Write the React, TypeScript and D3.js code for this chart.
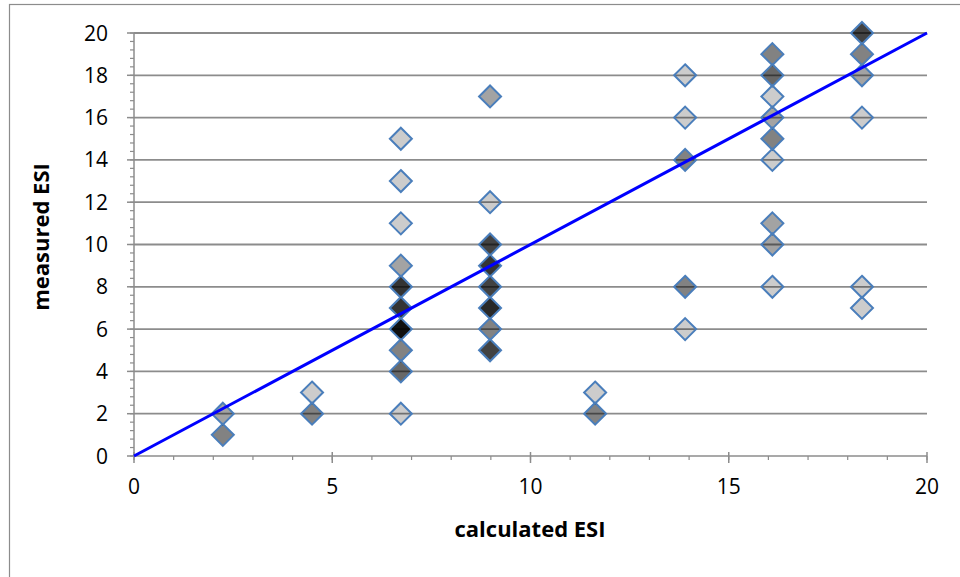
import React from "react";
import * as d3 from "d3";

// calculated ESI (x), measured ESI (y), number of coincident observations
const xValues = [2.24, 2.24, 4.49, 4.49,
  6.73, 6.73, 6.73, 6.73, 6.73, 6.73, 6.73, 6.73, 6.73, 6.73,
  8.98, 8.98, 8.98, 8.98, 8.98, 8.98, 8.98, 8.98,
  11.63, 11.63,
  13.9, 13.9, 13.9, 13.9, 13.9,
  16.1, 16.1, 16.1, 16.1, 16.1, 16.1, 16.1, 16.1, 16.1,
  18.36, 18.36, 18.36, 18.36, 18.36, 18.36];
const yValues = [2, 1, 3, 2,
  15, 13, 11, 9, 8, 7, 6, 5, 4, 2,
  17, 12, 10, 9, 8, 7, 6, 5,
  3, 2,
  18, 16, 14, 8, 6,
  19, 18, 17, 16, 15, 14, 11, 10, 8,
  20, 19, 18, 16, 8, 7];
const counts = [2, 3, 1, 3,
  1, 1, 1, 2, 7, 7, 12, 3, 4, 1,
  2, 1, 6, 7, 6, 8, 3, 6,
  1, 3,
  1, 1, 3, 3, 1,
  3, 4, 1, 2, 3, 1, 2, 2, 1,
  6, 3, 2, 1, 1, 1];

const xTicks = [0, 5, 10, 15, 20];
const yTicks = [0, 2, 4, 6, 8, 10, 12, 14, 16, 18, 20];
const xTitle = "calculated ESI";
const yTitle = "measured ESI";

export default function App() {
  const W = 960, H = 577;
  const x = d3.scaleLinear().domain([0, 20]).range([134, 927]);
  const y = d3.scaleLinear().domain([0, 20]).range([456, 33]);
  const font = "'Open Sans', 'Noto Sans', sans-serif";
  const axisCol = "#8c8c8c";
  const r = 11;
  const diamond = (cx: number, cy: number) =>
    `M${cx},${cy - r}L${cx + r},${cy}L${cx},${cy + r}L${cx - r},${cy}Z`;

  const xMinor = d3.range(0, 21, 1);
  const yMinor = d3.range(0, 20.001, 0.4);

  const pts = xValues.map((xv, i) => ({ x: xv, y: yValues[i], n: counts[i] }));

  return (
    <svg width={W} height={H} style={{ position: "absolute", left: 0, top: 0 }}>
      <rect x={0} y={0} width={W} height={H} fill="#fff" />
      <rect x={9.5} y={4.5} width={W} height={H} fill="none" stroke="#8c8c8c" strokeWidth={1.2} />
      {/* gridlines */}
      {yTicks.filter(t => t > 0).map(t => (
        <line key={"g" + t} x1={x(0)} x2={x(20)} y1={y(t)} y2={y(t)} stroke={axisCol} strokeWidth={1.8} />
      ))}
      {/* y axis */}
      <line x1={x(0)} x2={x(0)} y1={y(0)} y2={y(20)} stroke={axisCol} strokeWidth={1.5} />
      {yMinor.map((t, i) => (
        <line key={"ym" + i} x1={x(0) - 4} x2={x(0)} y1={y(t)} y2={y(t)} stroke={axisCol} strokeWidth={1.2} />
      ))}
      {yTicks.map(t => (
        <g key={"yt" + t}>
          <line x1={x(0) - 7} x2={x(0)} y1={y(t)} y2={y(t)} stroke={axisCol} strokeWidth={1.5} />
          <text x={108} y={y(t)} dy="0.36em" textAnchor="end" fontFamily={font} fontSize={21} fill="#000">{t}</text>
        </g>
      ))}
      {/* x axis */}
      <line x1={x(0)} x2={x(20)} y1={y(0)} y2={y(0)} stroke={axisCol} strokeWidth={1.5} />
      {xMinor.map(t => (
        <line key={"xm" + t} x1={x(t)} x2={x(t)} y1={y(0)} y2={y(0) + 4} stroke={axisCol} strokeWidth={1.2} />
      ))}
      {xTicks.map(t => (
        <g key={"xt" + t}>
          <line x1={x(t)} x2={x(t)} y1={y(0) - 4} y2={y(0) + 7} stroke={axisCol} strokeWidth={1.5} />
          <text x={x(t)} y={494} textAnchor="middle" fontFamily={font} fontSize={21} fill="#000">{t}</text>
        </g>
      ))}
      <text x={530} y={537} textAnchor="middle" fontFamily={font} fontSize={22} fontWeight="bold" fill="#000">{xTitle}</text>
      <text transform={`translate(49,237) rotate(-90)`} textAnchor="middle" fontFamily={font} fontSize={22} fontWeight="bold" fill="#000">{yTitle}</text>
      {/* points */}
      {pts.map((p, i) => (
        <g key={"p" + i}>
          {d3.range(p.n).map(k => (
            <path key={k} d={diamond(x(p.x), y(p.y))} fill="#000" fillOpacity={0.2} stroke="none" />
          ))}
          <path d={diamond(x(p.x), y(p.y))} fill="none" stroke="#4a7ebb" strokeWidth={2} />
        </g>
      ))}
      {/* 1:1 line */}
      <line x1={x(0)} y1={y(0)} x2={x(20)} y2={y(20)} stroke="#0000ff" strokeWidth={3} />
    </svg>
  );
}
